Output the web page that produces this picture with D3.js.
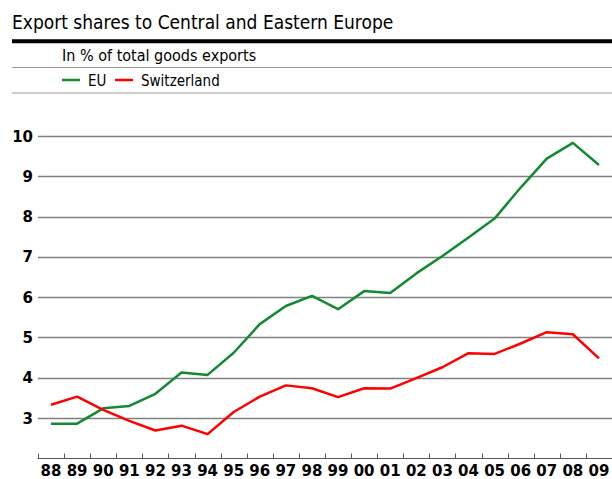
<!DOCTYPE html>
<html>
<head>
<meta charset="utf-8">
<script src="https://cdn.jsdelivr.net/npm/d3@7"></script>
<style>
  body { margin: 0; background: #fff; }
  svg text { font-family: "DejaVu Sans Condensed", "DejaVu Sans", sans-serif; }
</style>
</head>
<body>
<svg id="chart" width="612" height="479"></svg>
<script>
// years on the x axis
const years = ["88","89","90","91","92","93","94","95","96","97","98","99",
               "00","01","02","03","04","05","06","07","08","09"];

// export shares, % of total goods exports
const euValues = [2.86, 2.86, 3.24, 3.30, 3.60, 4.13, 4.07, 4.62, 5.33, 5.78, 6.03, 5.70,
                  6.15, 6.10, 6.59, 7.02, 7.48, 7.95, 8.72, 9.44, 9.83, 9.28];
const chValues = [3.33, 3.53, 3.20, 2.93, 2.69, 2.81, 2.60, 3.15, 3.53, 3.81, 3.74, 3.52,
                  3.74, 3.73, 3.99, 4.26, 4.61, 4.59, 4.85, 5.13, 5.08, 4.48];

const yTicks = [3, 4, 5, 6, 7, 8, 9, 10];

const seriesNames = ["EU", "Switzerland"];
const seriesColors = ["#138a32", "#ff0000"];

const svg = d3.select("#chart");

// Kopfzeile
svg.append("text")
    .attr("x", 12).attr("y", 29)
    .style("font-size", "19px")
    .text("Export shares to Central and Eastern Europe");

svg.append("line")
    .attr("x1", 12).attr("x2", 612).attr("y1", 41.3).attr("y2", 41.3)
    .attr("stroke", "#000").attr("stroke-width", 4);

svg.append("text")
    .attr("x", 62).attr("y", 60.5)
    .style("font-size", "16px")
    .text("In % of total goods exports");

svg.append("line")
    .attr("x1", 12).attr("x2", 612).attr("y1", 67.5).attr("y2", 67.5)
    .attr("stroke", "#999").attr("stroke-width", 1);

// Legende
const legend = svg.append("g").attr("transform", "translate(62,80)");
const legendX = [0, 53];
seriesNames.forEach(function (name, i) {
    const g = legend.append("g").attr("transform", "translate(" + legendX[i] + ",0)");
    g.append("line")
        .attr("x1", 0).attr("x2", 18)
        .attr("stroke", seriesColors[i]).attr("stroke-width", 2.5);
    g.append("text")
        .attr("x", 26).attr("y", 6)
        .style("font-size", "15px")
        .text(name);
});

svg.append("line")
    .attr("x1", 12).attr("x2", 612).attr("y1", 93).attr("y2", 93)
    .attr("stroke", "#999").attr("stroke-width", 1);

// Skalen
const x = d3.scaleBand().domain(years).range([38, 612]);
const y = d3.scaleLinear().domain([2, 10]).range([458.3, 136]);

// Gitterlinien + y-Beschriftung
const grid = svg.append("g");
grid.selectAll("line")
    .data(yTicks)
    .enter().append("line")
    .attr("x1", 38).attr("x2", 612)
    .attr("y1", function (d) { return Math.round(y(d)) + 0.5; })
    .attr("y2", function (d) { return Math.round(y(d)) + 0.5; })
    .attr("stroke", "#808080").attr("stroke-width", 1.3);

grid.selectAll("text")
    .data(yTicks)
    .enter().append("text")
    .attr("x", 33)
    .attr("y", function (d) { return y(d) + 5.5; })
    .attr("text-anchor", "end")
    .style("font-size", "15px")
    .style("font-weight", "bold")
    .style("font-family", "'DejaVu Sans', sans-serif")
    .text(function (d) { return d; });

// x-Achse
const xAxis = svg.append("g").attr("transform", "translate(0,458.5)");
xAxis.append("line")
    .attr("x1", 37.5).attr("x2", 612)
    .attr("stroke", "#555").attr("stroke-width", 1);
xAxis.selectAll(".tick")
    .data(years)
    .enter().append("line")
    .attr("class", "tick")
    .attr("x1", function (d) { return Math.round(x(d)) + 0.5; })
    .attr("x2", function (d) { return Math.round(x(d)) + 0.5; })
    .attr("y1", 0).attr("y2", -5)
    .attr("stroke", "#555").attr("stroke-width", 1);
xAxis.selectAll("text")
    .data(years)
    .enter().append("text")
    .attr("x", function (d) { return x(d) + x.bandwidth() / 2; })
    .attr("y", 17)
    .attr("text-anchor", "middle")
    .style("font-size", "15px")
    .style("font-weight", "bold")
    .style("font-family", "'DejaVu Sans', sans-serif")
    .text(function (d) { return d; });

// Linien
const line = d3.line()
    .x(function (d, i) { return x(years[i]) + x.bandwidth() / 2; })
    .y(function (d) { return y(d); });

[euValues, chValues].forEach(function (values, i) {
    svg.append("path")
        .datum(values)
        .attr("fill", "none")
        .attr("stroke", seriesColors[i])
        .attr("stroke-width", 2.5)
        .attr("stroke-linejoin", "round")
        .attr("d", line);
});
</script>
</body>
</html>
